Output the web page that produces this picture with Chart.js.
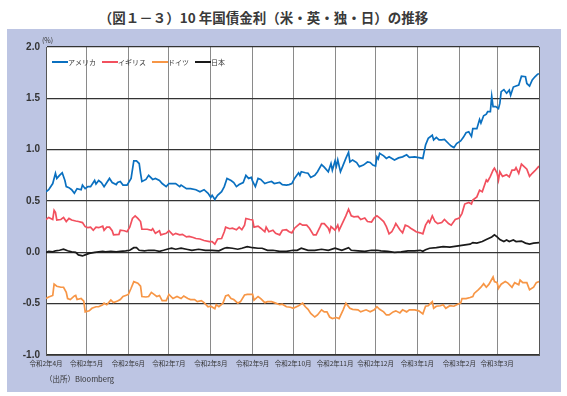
<!DOCTYPE html>
<html><head><meta charset="utf-8">
<script src="https://cdn.jsdelivr.net/npm/chart.js@4"></script>
<style>
html,body{margin:0;padding:0;background:#fff;}
body{width:567px;height:396px;position:relative;overflow:hidden;font-family:"Noto Sans CJK JP",sans-serif;}
#title{position:absolute;left:0;width:527px;top:7px;text-align:center;font-size:13.5px;font-weight:bold;color:#3a3a3a;white-space:nowrap;}
#panel{position:absolute;left:7px;top:29px;width:554px;height:363px;background:#BDC5E3;}
#wrap{position:absolute;left:0;top:0;width:554px;height:363px;}
#unit{position:absolute;left:35px;top:6px;font-size:7px;color:#333;}
#src{position:absolute;left:38px;top:344px;font-size:7.5px;color:#333;white-space:nowrap;}
</style></head>
<body>
<div id="title">（図１－３）10 年国債金利（米・英・独・日）の推移</div>
<div id="panel">
  <div id="wrap"><canvas id="c" width="554" height="363"></canvas></div>
  <div id="unit">(%)</div>
  <div id="src">（出所）Bloomberg</div>
</div>
<script>
// x = days since 2020-04-01
const monthStarts = [0,30,61,91,122,153,183,214,244,275,306,334,365];
const monthLabels = ['令和2年4月','令和2年5月','令和2年6月','令和2年7月','令和2年8月','令和2年9月','令和2年10月','令和2年11月','令和2年12月','令和3年1月','令和3年2月','令和3年3月',''];
const yTicks = [2.0,1.5,1.0,0.5,0.0,-0.5,-1.0];
const seriesNames = ['アメリカ','イギリス','ドイツ','日本'];

const usa = [[0,0.59],[2,0.61],[5,0.67],[7,0.77],[8,0.72],[10,0.75],[12,0.775],[14,0.70],[15,0.64],[17,0.63],[19,0.61],[21,0.575],[23,0.62],[26,0.61],[27,0.655],[29,0.62],[31,0.64],[33,0.64],[36,0.70],[37,0.665],[39,0.70],[41,0.68],[43,0.64],[47,0.72],[49,0.68],[52,0.66],[53,0.68],[55,0.69],[57,0.655],[60,0.655],[63,0.72],[65,0.89],[67,0.89],[69,0.865],[70,0.77],[71,0.69],[74,0.71],[76,0.75],[79,0.71],[81,0.72],[84,0.70],[86,0.67],[89,0.64],[91,0.67],[96,0.67],[99,0.64],[100,0.655],[104,0.62],[107,0.62],[111,0.61],[114,0.59],[117,0.61],[120,0.575],[122,0.535],[123,0.555],[125,0.515],[127,0.555],[130,0.59],[132,0.64],[134,0.72],[137,0.70],[139,0.68],[141,0.64],[143,0.66],[146,0.68],[148,0.75],[150,0.72],[152,0.73],[153,0.69],[155,0.64],[157,0.72],[159,0.71],[162,0.67],[164,0.68],[167,0.69],[169,0.67],[173,0.68],[175,0.66],[178,0.655],[180,0.66],[182,0.67],[184,0.72],[187,0.775],[188,0.75],[189,0.785],[192,0.775],[194,0.77],[196,0.73],[199,0.75],[201,0.785],[204,0.855],[206,0.83],[209,0.785],[211,0.865],[212,0.80],[214,0.89],[215,0.84],[216,0.90],[218,0.785],[220,0.85],[222,0.915],[224,0.975],[225,0.88],[227,0.90],[230,0.875],[232,0.835],[235,0.85],[238,0.88],[240,0.875],[242,0.85],[244,0.84],[245,0.93],[246,0.91],[247,0.965],[250,0.94],[252,0.915],[254,0.93],[258,0.90],[261,0.92],[264,0.93],[267,0.95],[269,0.925],[273,0.93],[277,0.92],[279,0.915],[281,1.045],[283,1.11],[286,1.14],[287,1.095],[289,1.12],[291,1.095],[293,1.095],[295,1.10],[298,1.06],[300,1.035],[302,1.02],[304,1.06],[307,1.085],[309,1.12],[311,1.165],[313,1.175],[315,1.13],[316,1.205],[319,1.205],[321,1.295],[322,1.26],[324,1.33],[326,1.345],[327,1.37],[329,1.37],[330,1.52],[331,1.42],[333,1.42],[335,1.40],[336,1.45],[337,1.565],[339,1.585],[341,1.55],[343,1.58],[344,1.53],[346,1.61],[348,1.62],[350,1.63],[352,1.715],[355,1.71],[356,1.645],[358,1.62],[360,1.68],[362,1.71],[364,1.735],[365,1.74]];

const uk = [[0,0.32],[2,0.34],[5,0.32],[6,0.41],[7,0.39],[8,0.315],[11,0.32],[13,0.34],[15,0.30],[17,0.33],[19,0.315],[22,0.305],[24,0.30],[27,0.29],[29,0.25],[31,0.24],[33,0.245],[35,0.215],[37,0.245],[39,0.24],[42,0.255],[43,0.215],[45,0.245],[47,0.245],[49,0.21],[50,0.17],[54,0.175],[55,0.215],[58,0.21],[60,0.20],[62,0.245],[64,0.33],[66,0.355],[68,0.33],[70,0.30],[71,0.225],[75,0.225],[78,0.215],[79,0.23],[81,0.185],[84,0.21],[85,0.17],[89,0.185],[91,0.21],[94,0.17],[96,0.185],[99,0.17],[101,0.175],[104,0.15],[106,0.155],[109,0.145],[111,0.135],[114,0.13],[117,0.115],[121,0.105],[123,0.105],[125,0.08],[127,0.13],[130,0.135],[132,0.20],[133,0.245],[136,0.23],[138,0.235],[141,0.22],[143,0.245],[145,0.22],[147,0.265],[148,0.33],[151,0.32],[153,0.315],[154,0.245],[157,0.255],[159,0.235],[162,0.20],[163,0.245],[165,0.20],[168,0.215],[170,0.185],[173,0.17],[175,0.215],[178,0.22],[180,0.20],[182,0.19],[184,0.235],[188,0.28],[190,0.265],[193,0.265],[195,0.235],[198,0.17],[200,0.17],[203,0.25],[204,0.28],[206,0.28],[209,0.235],[210,0.20],[211,0.25],[214,0.215],[216,0.265],[217,0.215],[220,0.30],[222,0.355],[224,0.42],[226,0.355],[228,0.345],[231,0.35],[233,0.32],[236,0.335],[238,0.30],[241,0.295],[243,0.335],[245,0.355],[247,0.335],[250,0.30],[252,0.25],[254,0.18],[256,0.20],[258,0.25],[259,0.28],[262,0.22],[264,0.19],[266,0.265],[268,0.255],[270,0.235],[273,0.21],[274,0.20],[277,0.19],[279,0.18],[281,0.265],[283,0.31],[284,0.29],[286,0.355],[288,0.30],[290,0.28],[293,0.29],[295,0.32],[298,0.28],[300,0.265],[303,0.32],[306,0.335],[308,0.38],[310,0.47],[313,0.485],[315,0.47],[316,0.51],[319,0.54],[321,0.605],[323,0.59],[324,0.63],[326,0.705],[327,0.69],[329,0.74],[331,0.80],[332,0.82],[334,0.77],[335,0.705],[336,0.785],[338,0.74],[341,0.755],[343,0.735],[345,0.80],[347,0.80],[348,0.825],[350,0.77],[352,0.86],[354,0.835],[356,0.81],[358,0.74],[360,0.77],[362,0.795],[365,0.84]];

const germany = [[0,-0.45],[2,-0.435],[5,-0.42],[6,-0.31],[8,-0.33],[11,-0.34],[13,-0.34],[15,-0.39],[16,-0.45],[18,-0.46],[21,-0.425],[22,-0.42],[23,-0.46],[26,-0.45],[28,-0.475],[29,-0.58],[32,-0.57],[34,-0.545],[37,-0.53],[39,-0.53],[42,-0.51],[43,-0.495],[45,-0.51],[48,-0.465],[50,-0.49],[53,-0.475],[55,-0.46],[57,-0.43],[59,-0.42],[61,-0.41],[63,-0.35],[65,-0.285],[68,-0.30],[70,-0.33],[71,-0.43],[74,-0.435],[76,-0.43],[78,-0.39],[80,-0.41],[82,-0.43],[84,-0.42],[86,-0.47],[89,-0.47],[91,-0.41],[94,-0.45],[97,-0.43],[100,-0.45],[102,-0.425],[105,-0.45],[107,-0.46],[110,-0.46],[112,-0.48],[115,-0.47],[117,-0.49],[120,-0.53],[122,-0.525],[125,-0.55],[126,-0.51],[128,-0.53],[131,-0.495],[133,-0.425],[135,-0.415],[137,-0.45],[139,-0.46],[142,-0.495],[144,-0.48],[147,-0.415],[149,-0.41],[153,-0.41],[154,-0.465],[157,-0.43],[159,-0.45],[162,-0.49],[164,-0.48],[167,-0.48],[170,-0.495],[173,-0.51],[175,-0.505],[178,-0.53],[181,-0.535],[183,-0.545],[187,-0.52],[190,-0.495],[192,-0.53],[194,-0.555],[196,-0.595],[199,-0.63],[201,-0.61],[204,-0.56],[206,-0.58],[208,-0.58],[210,-0.63],[212,-0.645],[215,-0.635],[217,-0.645],[220,-0.56],[222,-0.495],[225,-0.545],[227,-0.555],[231,-0.56],[233,-0.58],[237,-0.56],[240,-0.58],[243,-0.56],[245,-0.53],[247,-0.555],[250,-0.58],[252,-0.61],[254,-0.61],[257,-0.58],[259,-0.57],[262,-0.59],[264,-0.56],[267,-0.58],[269,-0.56],[273,-0.56],[276,-0.57],[279,-0.60],[281,-0.525],[283,-0.52],[286,-0.48],[287,-0.545],[289,-0.525],[292,-0.52],[294,-0.51],[296,-0.545],[299,-0.52],[302,-0.525],[304,-0.51],[307,-0.495],[308,-0.45],[311,-0.45],[314,-0.44],[316,-0.43],[317,-0.40],[320,-0.365],[322,-0.34],[324,-0.305],[326,-0.34],[328,-0.31],[331,-0.24],[332,-0.285],[334,-0.295],[335,-0.35],[337,-0.31],[340,-0.285],[342,-0.30],[345,-0.34],[347,-0.295],[350,-0.315],[351,-0.27],[353,-0.295],[356,-0.295],[358,-0.365],[361,-0.34],[363,-0.295],[365,-0.285]];

const japan = [[0,0.0],[2,0.01],[5,0.005],[7,0.015],[10,0.02],[13,0.03],[16,0.015],[19,0.005],[22,0.0],[24,-0.025],[27,-0.035],[29,-0.025],[32,-0.01],[36,0.0],[39,0.005],[42,0.01],[44,0.005],[48,0.01],[52,0.005],[55,0.01],[59,0.015],[62,0.02],[65,0.045],[67,0.045],[69,0.02],[73,0.015],[76,0.02],[80,0.02],[84,0.01],[87,0.02],[91,0.035],[93,0.04],[96,0.03],[100,0.04],[104,0.03],[108,0.02],[113,0.03],[118,0.02],[123,0.02],[128,0.015],[132,0.04],[134,0.045],[138,0.04],[142,0.03],[145,0.04],[149,0.055],[153,0.045],[157,0.04],[160,0.04],[164,0.02],[168,0.02],[173,0.01],[178,0.01],[183,0.02],[186,0.02],[189,0.04],[194,0.02],[199,0.02],[204,0.03],[209,0.02],[214,0.04],[219,0.02],[224,0.045],[226,0.02],[231,0.015],[236,0.01],[241,0.02],[245,0.02],[248,0.015],[253,0.01],[258,0.0],[263,0.005],[268,0.015],[273,0.015],[277,0.02],[279,0.01],[281,0.025],[284,0.04],[289,0.045],[294,0.055],[299,0.05],[304,0.06],[309,0.07],[314,0.08],[316,0.095],[319,0.09],[323,0.105],[326,0.125],[330,0.15],[332,0.17],[334,0.15],[336,0.125],[339,0.105],[341,0.12],[343,0.105],[346,0.12],[348,0.105],[352,0.11],[355,0.09],[358,0.08],[361,0.09],[365,0.095]];

const toXY = arr => arr.map(p => ({x: p[0], y: p[1]}));
const colors = ['#0A70C0','#F2505E','#F79646','#1A1A1A'];
const allSeries = [usa, uk, germany, japan];

const areaBg = {
  id: 'areaBg',
  beforeDraw(chart) {
    const {ctx, chartArea: a} = chart;
    ctx.save(); ctx.fillStyle = '#fff';
    ctx.fillRect(a.left, a.top, a.right - a.left, a.bottom - a.top);
    ctx.restore();
  }
};

// horizontal legend drawn inside the plot area from the datasets
const innerLegend = {
  id: 'innerLegend',
  afterDraw(chart) {
    const {ctx, chartArea: a} = chart;
    ctx.save();
    ctx.font = '7px "Noto Sans CJK JP"';
    ctx.textBaseline = 'middle';
    let x = a.left + 6;
    const y = a.top + 15;
    chart.data.datasets.forEach(ds => {
      ctx.strokeStyle = ds.borderColor; ctx.lineWidth = 2;
      ctx.beginPath(); ctx.moveTo(x, y); ctx.lineTo(x + 16, y); ctx.stroke();
      ctx.fillStyle = '#333';
      ctx.fillText(ds.label, x + 16, y);
      x += 16 + ctx.measureText(ds.label).width + 6;
    });
    ctx.strokeStyle = '#555'; ctx.lineWidth = 1;
    ctx.beginPath(); ctx.moveTo(a.right + 0.5, a.top); ctx.lineTo(a.right + 0.5, a.bottom); ctx.stroke();
    ctx.restore();
  }
};

new Chart(document.getElementById('c'), {
  type: 'line',
  data: {
    datasets: allSeries.map((s, i) => ({
      label: seriesNames[i],
      data: toXY(s),
      borderColor: colors[i],
      backgroundColor: colors[i],
      borderWidth: 1.7,
      pointRadius: 0,
      tension: 0,
      fill: false
    }))
  },
  options: {
    responsive: false,
    animation: false,
    devicePixelRatio: 1,
    layout: {padding: {left: 0, top: 18, right: 22, bottom: 0}},
    plugins: {
      legend: {display: false},
      tooltip: {enabled: false}
    },
    scales: {
      x: {
        type: 'linear', min: 0, max: 365,
        afterBuildTicks: s => { s.ticks = monthStarts.map(v => ({value: v})); },
        afterFit: s => { s.height = 37; },
        grid: {color: '#8a8a8a', lineWidth: 1, drawTicks: false},
        border: {color: '#555', width: 1},
        ticks: {
          autoSkip: false, maxRotation: 0, padding: 5, color: '#333',
          font: {family: '"Noto Sans CJK JP"', size: 6.5},
          callback: (v) => monthLabels[monthStarts.indexOf(v)] ?? ''
        }
      },
      y: {
        min: -1, max: 2,
        afterBuildTicks: s => { s.ticks = yTicks.map(v => ({value: v})); },
        afterFit: s => { s.width = 39; },
        grid: {color: '#333', lineWidth: 1.2, drawTicks: false},
        border: {color: '#555', width: 1},
        ticks: {padding: 6, color: '#333',
                font: {family: '"Liberation Sans"', size: 10, weight: 'bold'},
                callback: v => v.toFixed(1)}
      }
    }
  },
  plugins: [areaBg, innerLegend]
});
</script>
</body></html>
